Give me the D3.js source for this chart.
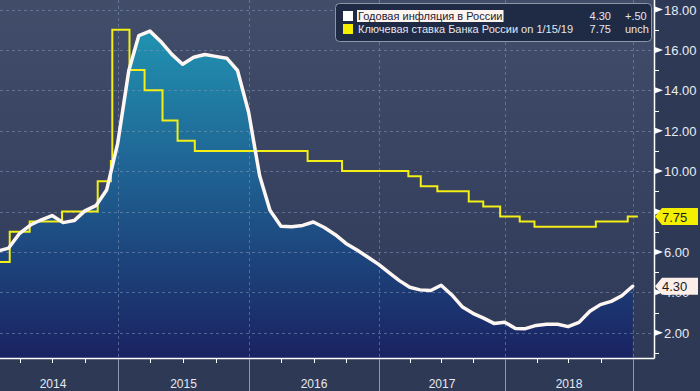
<!DOCTYPE html>
<html>
<head>
<meta charset="utf-8">
<script src="https://cdn.jsdelivr.net/npm/d3@7"></script>
<style>
  html, body { margin: 0; padding: 0; background: #2e3a55; }
  svg { display: block; font-family: "Liberation Sans", Arial, sans-serif; }
</style>
</head>
<body>
<div id="chart"></div>
<script>
var width = 700;
var height = 391;
var plotRight = 654;
var plotBottom = 358;

// monthly CPI y/y, %
var inflationMonths = [
  "2014-01","2014-02","2014-03","2014-04","2014-05","2014-06","2014-07","2014-08","2014-09","2014-10","2014-11","2014-12",
  "2015-01","2015-02","2015-03","2015-04","2015-05","2015-06","2015-07","2015-08","2015-09","2015-10","2015-11","2015-12",
  "2016-01","2016-02","2016-03","2016-04","2016-05","2016-06","2016-07","2016-08","2016-09","2016-10","2016-11","2016-12",
  "2017-01","2017-02","2017-03","2017-04","2017-05","2017-06","2017-07","2017-08","2017-09","2017-10","2017-11","2017-12",
  "2018-01","2018-02","2018-03","2018-04","2018-05","2018-06","2018-07","2018-08","2018-09","2018-10","2018-11","2018-12"
];
var inflationValues = [
  6.05, 6.19, 6.92, 7.33, 7.59, 7.80, 7.45, 7.55, 8.03, 8.29, 9.06, 11.36,
  14.97, 16.71, 16.93, 16.42, 15.78, 15.29, 15.64, 15.77, 15.68, 15.59, 14.98, 12.91,
  9.77, 8.06, 7.27, 7.25, 7.31, 7.48, 7.21, 6.85, 6.42, 6.09, 5.75, 5.38,
  4.96, 4.59, 4.25, 4.12, 4.09, 4.35, 3.87, 3.27, 2.96, 2.72, 2.46, 2.52,
  2.21, 2.20, 2.36, 2.42, 2.42, 2.30, 2.51, 3.06, 3.39, 3.55, 3.83, 4.30
];

// key rate changes
var rateDates = [
  "2014-01-01","2014-03-03","2014-04-28","2014-07-28","2014-11-05","2014-12-12","2014-12-16",
  "2015-02-02","2015-03-16","2015-05-05","2015-06-16","2015-08-03",
  "2016-06-14","2016-09-19",
  "2017-03-27","2017-05-02","2017-06-19","2017-09-18","2017-10-30","2017-12-18",
  "2018-02-12","2018-03-26","2018-09-17","2018-12-17","2019-01-15"
];
var rateValues = [
  5.5, 7.0, 7.5, 8.0, 9.5, 10.5, 17.0,
  15.0, 14.0, 12.5, 11.5, 11.0,
  10.5, 10.0,
  9.75, 9.25, 9.0, 8.5, 8.25, 7.75,
  7.5, 7.25, 7.5, 7.75, 7.75
];

var yearLabels = ["2014", "2015", "2016", "2017", "2018"];
var yTicks = [2, 4, 6, 8, 10, 12, 14, 16, 18];
var yMinorTicks = [1, 3, 5, 7, 9, 11, 13, 15, 17];

var legendNames = ["Годовая инфляция в России", "Ключевая ставка Банка России on 1/15/19"];
var legendValues = ["4.30", "7.75"];
var legendChanges = ["+.50", "unch"];
var legendColors = ["#ffffff", "#f4ee00"];

var parseMonth = d3.timeParse("%Y-%m");
var parseDay = d3.timeParse("%Y-%m-%d");

// month values sit at the end of the month
var inflation = inflationMonths.map(function(m, i) {
  var d = parseMonth(m);
  return { date: new Date(d.getFullYear(), d.getMonth() + 1, 0), value: inflationValues[i] };
});
var rates = rateDates.map(function(s, i) {
  return { date: parseDay(s), value: rateValues[i] };
});

// year boundaries are not quite evenly spaced on the original
var x = d3.scaleTime()
  .domain([new Date(2014, 0, 1), new Date(2015, 0, 1), new Date(2016, 0, 1),
           new Date(2017, 0, 1), new Date(2018, 0, 1), new Date(2019, 0, 1)])
  .range([-12, 118, 249, 379, 505, 633]);
var y = d3.scaleLinear()
  .domain([2, 18])
  .range([332.7, 9.5]);

var svg = d3.select("#chart")
  .append("svg")
  .attr("width", width)
  .attr("height", height);

var defs = svg.append("defs");

var bgGrad = defs.append("linearGradient")
  .attr("id", "bgGrad")
  .attr("x1", 0).attr("y1", 0).attr("x2", 0).attr("y2", 1);
bgGrad.append("stop").attr("offset", "0%").attr("stop-color", "#414d69");
bgGrad.append("stop").attr("offset", "100%").attr("stop-color", "#2d3957");

var areaGrad = defs.append("linearGradient")
  .attr("id", "areaGrad")
  .attr("gradientUnits", "userSpaceOnUse")
  .attr("x1", 0).attr("y1", 20).attr("x2", 0).attr("y2", plotBottom);
areaGrad.append("stop").attr("offset", "0%").attr("stop-color", "#2196b3");
areaGrad.append("stop").attr("offset", "45%").attr("stop-color", "#1f6293");
areaGrad.append("stop").attr("offset", "100%").attr("stop-color", "#1a2262");

defs.append("clipPath")
  .attr("id", "plotClip")
  .append("rect")
  .attr("x", 0).attr("y", 0)
  .attr("width", plotRight).attr("height", plotBottom);

// page + plot background
svg.append("rect")
  .attr("width", width).attr("height", height)
  .attr("fill", "#2e3a55");
svg.append("rect")
  .attr("width", plotRight).attr("height", plotBottom)
  .attr("fill", "url(#bgGrad)");

var plot = svg.append("g").attr("clip-path", "url(#plotClip)");

// inflation area
var area = d3.area()
  .x(function(d) { return x(d.date); })
  .y0(plotBottom)
  .y1(function(d) { return y(d.value); });

plot.append("path")
  .datum(inflation)
  .attr("d", area)
  .attr("fill", "url(#areaGrad)");

// grid lines
plot.selectAll(".hgrid")
  .data(yTicks)
  .enter()
  .append("line")
  .attr("x1", 0).attr("x2", plotRight)
  .attr("y1", function(d) { return Math.round(y(d)) + 0.5; })
  .attr("y2", function(d) { return Math.round(y(d)) + 0.5; })
  .attr("stroke", "rgba(130,150,185,0.55)")
  .attr("stroke-dasharray", "3,3");

var yearStarts = d3.timeYear.range(new Date(2015, 0, 1), new Date(2019, 0, 2));

plot.selectAll(".vgrid")
  .data(yearStarts)
  .enter()
  .append("line")
  .attr("x1", function(d) { return Math.round(x(d)) + 0.5; })
  .attr("x2", function(d) { return Math.round(x(d)) + 0.5; })
  .attr("y1", 0).attr("y2", plotBottom)
  .attr("stroke", "rgba(130,150,185,0.55)")
  .attr("stroke-dasharray", "3,3");

// key rate
var rateLine = d3.line()
  .curve(d3.curveStepAfter)
  .x(function(d) { return x(d.date); })
  .y(function(d) { return y(d.value); });

plot.append("path")
  .datum(rates)
  .attr("d", rateLine)
  .attr("fill", "none")
  .attr("stroke", "#f2ee16")
  .attr("stroke-width", 2);

// inflation line
var inflLine = d3.line()
  .x(function(d) { return x(d.date); })
  .y(function(d) { return y(d.value); });

plot.append("path")
  .datum(inflation)
  .attr("d", inflLine)
  .attr("fill", "none")
  .attr("stroke", "#fdf6f3")
  .attr("stroke-width", 3.5)
  .attr("stroke-linejoin", "round")
  .attr("stroke-linecap", "round");

// frame
svg.append("line")
  .attr("x1", 0).attr("x2", plotRight + 0.5)
  .attr("y1", plotBottom + 0.5).attr("y2", plotBottom + 0.5)
  .attr("stroke", "#ffffff").attr("stroke-width", 1.5);
svg.append("line")
  .attr("x1", plotRight + 0.5).attr("x2", plotRight + 0.5)
  .attr("y1", 0).attr("y2", plotBottom + 0.5)
  .attr("stroke", "#ffffff").attr("stroke-width", 1.5);

// bottom axis: quarter ticks, year separators, labels
var quarterTicks = d3.timeMonth.every(3).range(new Date(2014, 0, 1), new Date(2019, 0, 1))
  .filter(function(d) { return x(d) > 0 && d.getMonth() !== 0; });

svg.selectAll(".qtick")
  .data(quarterTicks)
  .enter()
  .append("line")
  .attr("x1", function(d) { return Math.round(x(d)) + 0.5; })
  .attr("x2", function(d) { return Math.round(x(d)) + 0.5; })
  .attr("y1", plotBottom).attr("y2", plotBottom + 5)
  .attr("stroke", "#ffffff");

svg.selectAll(".ysep")
  .data(yearStarts)
  .enter()
  .append("line")
  .attr("x1", function(d) { return Math.round(x(d)) + 0.5; })
  .attr("x2", function(d) { return Math.round(x(d)) + 0.5; })
  .attr("y1", plotBottom + 1).attr("y2", height)
  .attr("stroke", "#8e97ab");

svg.selectAll(".ylabel")
  .data(yearLabels)
  .enter()
  .append("text")
  .attr("x", function(d) {
    var yr = +d;
    return (x(new Date(yr, 0, 1)) + x(new Date(yr + 1, 0, 1))) / 2;
  })
  .attr("y", 388)
  .attr("text-anchor", "middle")
  .attr("fill", "#e6e9f0")
  .attr("font-size", 12)
  .text(function(d) { return d; });

// right axis
svg.selectAll(".ymajor")
  .data(yTicks)
  .enter()
  .append("path")
  .attr("d", function(d) {
    var yy = y(d);
    return "M" + (plotRight + 1) + "," + (yy - 3) + "L" + (plotRight + 9) + "," + yy + "L" + (plotRight + 1) + "," + (yy + 3) + "Z";
  })
  .attr("fill", "#ffffff");

svg.selectAll(".yminor")
  .data(yMinorTicks)
  .enter()
  .append("line")
  .attr("x1", plotRight).attr("x2", plotRight + 5)
  .attr("y1", function(d) { return Math.round(y(d)) + 0.5; })
  .attr("y2", function(d) { return Math.round(y(d)) + 0.5; })
  .attr("stroke", "#ffffff");

svg.selectAll(".ytext")
  .data(yTicks)
  .enter()
  .append("text")
  .attr("x", 664)
  .attr("y", function(d) { return y(d) + 5; })
  .attr("fill", "#e8ebf2")
  .attr("font-size", 13)
  .text(function(d) { return d3.format(".2f")(d); });

// last value tags (they cover the 8.00 / 4.00 labels, as on the original)
var tags = [
  { value: 7.75, fill: "#f4ee00" },
  { value: 4.30, fill: "#fcefea" }
];
var tagG = svg.selectAll(".tag")
  .data(tags)
  .enter()
  .append("g");
tagG.append("path")
  .attr("d", function(d) {
    var yy = y(d.value);
    return "M655," + yy + "L662," + (yy - 8.5) + "L698," + (yy - 8.5) +
      "L698," + (yy + 8.5) + "L662," + (yy + 8.5) + "Z";
  })
  .attr("fill", function(d) { return d.fill; });
tagG.append("text")
  .attr("x", 662)
  .attr("y", function(d) { return y(d.value) + 5; })
  .attr("fill", "#1a1a22")
  .attr("font-size", 13)
  .text(function(d) { return d3.format(".2f")(d.value); });

// legend
var legend = svg.append("g");
legend.append("rect")
  .attr("x", 335.5).attr("y", 3.5)
  .attr("width", 316).attr("height", 38)
  .attr("rx", 4)
  .attr("fill", "#1f2a45")
  .attr("stroke", "#8d95a8");

legendNames.forEach(function(name, i) {
  var base = 20 + i * 13;
  legend.append("rect")
    .attr("x", 343).attr("y", base - 9)
    .attr("width", 10).attr("height", 10)
    .attr("fill", legendColors[i]);
  var hl = legend.append("rect");
  var t = legend.append("text")
    .attr("x", 358).attr("y", base)
    .attr("font-size", 11)
    .attr("fill", i === 0 ? "#1b2233" : "#e4e7ee")
    .text(name);
  if (i === 0) {
    hl.attr("x", 357).attr("y", base - 10)
      .attr("width", t.node().getComputedTextLength() + 2)
      .attr("height", 12)
      .attr("fill", "#fdf4f0");
  } else {
    hl.remove();
  }
  legend.append("text")
    .attr("x", 611).attr("y", base)
    .attr("text-anchor", "end")
    .attr("font-size", 11)
    .attr("fill", "#e4e7ee")
    .text(legendValues[i]);
  legend.append("text")
    .attr("x", 625).attr("y", base)
    .attr("font-size", 11)
    .attr("fill", "#e4e7ee")
    .text(legendChanges[i]);
});
</script>
</body>
</html>
